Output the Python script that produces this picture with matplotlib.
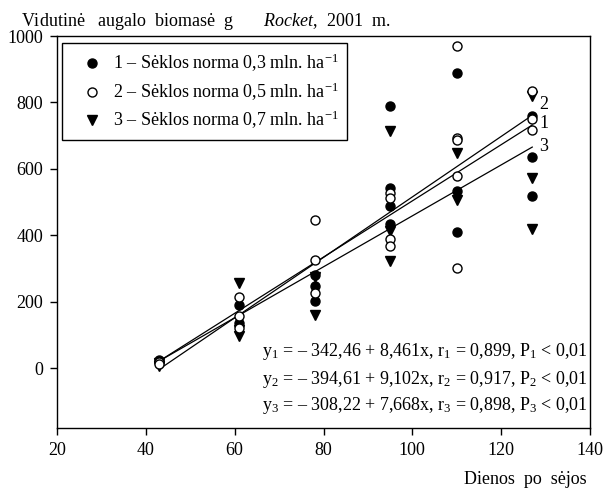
import numpy as np
import matplotlib.pyplot as plt

plt.rcParams['font.family'] = 'Liberation Serif'
plt.rcParams['mathtext.fontset'] = 'custom'
plt.rcParams['mathtext.rm'] = 'Liberation Serif'
plt.rcParams['mathtext.it'] = 'Liberation Serif:italic'
plt.rcParams['font.size'] = 13

days = [43, 61, 78, 95, 110, 127]

# biomass readings per day (g)
norm_03 = [[25, 18], [190, 135], [280, 247, 202], [790, 543, 488, 435],
           [888, 532, 411], [760, 636, 519]]
norm_05 = [[20, 12], [215, 157, 120], [447, 327, 227], [528, 512, 390, 367],
           [969, 694, 686, 580, 303], [835, 750, 718]]
norm_07 = [[8, 15], [255, 115, 97], [275, 160], [713, 412, 322],
           [648, 505], [818, 574, 420]]

# regression coefficients (intercept, slope)
fits = [(-342.46, 8.461), (-394.61, 9.102), (-308.22, 7.668)]
fit_labels = ['1', '2', '3']
label_y = [738, 793, 668]

legend_labels = ['1 – Sėklos norma 0,3 mln. ha$^{-1}$',
                 '2 – Sėklos norma 0,5 mln. ha$^{-1}$',
                 '3 – Sėklos norma 0,7 mln. ha$^{-1}$']
equations = ['y$_1$ = – 342,46 + 8,461x, r$_1$ = 0,899, P$_1$ < 0,01',
             'y$_2$ = – 394,61 + 9,102x, r$_2$ = 0,917, P$_2$ < 0,01',
             'y$_3$ = – 308,22 + 7,668x, r$_3$ = 0,898, P$_3$ < 0,01']


def flatten(groups):
    xs, ys = [], []
    for d, vals in zip(days, groups):
        xs += [d] * len(vals)
        ys += vals
    return np.array(xs), np.array(ys)


fig = plt.figure(figsize=(6.08, 4.95), dpi=100)
ax = fig.add_axes([57 / 608, 1 - 428 / 495, 533 / 608, 392 / 495])

xl = np.array([days[0], days[-1]])
for (a, b), lab, ly in zip(fits, fit_labels, label_y):
    ax.plot(xl, a + b * xl, color='black', lw=0.9, zorder=2)
    ax.text(days[-1] + 1.6, ly, lab, ha='left', va='center', fontsize=13)

x1, y1 = flatten(norm_03)
x2, y2 = flatten(norm_05)
x3, y3 = flatten(norm_07)
ms = 6.5
ax.plot(x1, y1, 'o', ms=ms, mfc='black', mec='black', ls='none',
        label=legend_labels[0], zorder=3)
ax.plot(x2, y2, 'o', ms=ms, mfc='white', mec='black', mew=1.0, ls='none',
        label=legend_labels[1], zorder=4)
ax.plot(x3, y3, 'v', ms=ms, mfc='black', mec='black', ls='none',
        label=legend_labels[2], zorder=3)

ax.set_xlim(20, 140)
ax.set_ylim(-180, 1000)
ax.set_xticks([20, 40, 60, 80, 100, 120, 140])
ax.set_yticks([0, 200, 400, 600, 800, 1000])
ax.tick_params(direction='out', length=5, width=1, pad=5, labelsize=13)
for s in ax.spines.values():
    s.set_linewidth(1)

leg = ax.legend(loc='upper left', bbox_to_anchor=(5 / 533, 1 - 7 / 392),
                borderaxespad=0, fancybox=False, framealpha=1,
                edgecolor='black', borderpad=0.5, handlelength=2.3,
                handletextpad=0.0, labelspacing=0.35, numpoints=1, fontsize=13)
leg.get_frame().set_linewidth(1)

for i, eq in enumerate(equations):
    ax.text(0.995, (428 - 352 - 27 * i) / 392, eq, transform=ax.transAxes,
            ha='right', va='center', fontsize=13)

fig.text(21 / 608, 1 - 21 / 495,
         'Vidutinė   augalo  biomasė  g       $\\mathit{Rocket}$,  2001  m.',
         ha='left', va='center', fontsize=13)
fig.text(587 / 608, 1 - 480 / 495, 'Dienos  po  sėjos', ha='right',
         va='center', fontsize=13)

fig.savefig('out.png', dpi=100)
